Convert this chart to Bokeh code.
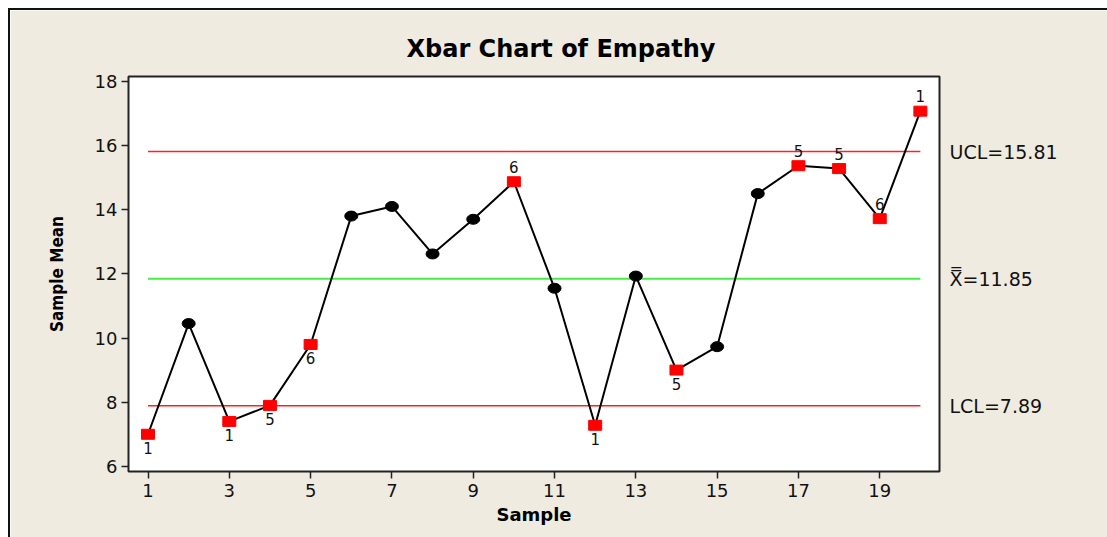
from bokeh.plotting import figure
from bokeh.models import Range1d, FixedTicker, LinearAxis, ColumnDataSource
from bokeh.core.properties import value
from bokeh.embed import file_html
from bokeh.resources import INLINE

# ---- data ----
samples = list(range(1, 21))
means = [7.0, 10.45, 7.4, 7.9, 9.8, 13.8, 14.1, 12.62, 13.7, 14.87,
         11.55, 7.28, 11.93, 9.0, 9.73, 14.5, 15.37, 15.28, 13.72, 17.07]
flags = ["1", "", "1", "5", "6", "", "", "", "", "6",
         "", "1", "", "5", "", "", "5", "5", "6", "1"]
flag_side = ["below", "", "below", "below", "below", "", "", "", "", "above",
             "", "below", "", "below", "", "", "above", "above", "above", "above"]
ucl = 15.81
center = 11.85
lcl = 7.89
limit_labels = ["UCL=15.81", "X\u033F=11.85", "LCL=7.89"]
limit_values = [ucl, center, lcl]
x_ticks = [1, 3, 5, 7, 9, 11, 13, 15, 17, 19]
y_ticks = [6, 8, 10, 12, 14, 16, 18]

BG = "#EFEBE1"
FONT = "DejaVu Sans"

p = figure(frame_width=811, frame_height=395,
           min_border_left=118, min_border_right=168,
           min_border_top=66, min_border_bottom=66,
           x_range=Range1d(0.52, 20.47), y_range=Range1d(5.84, 18.15),
           output_backend="svg", toolbar_location=None,
           background_fill_color="white", border_fill_color=BG,
           title="Xbar Chart of Empathy")
p.styles = {"border-left": "2px solid #111", "border-top": "2px solid #111",
            "margin-left": "8px", "margin-top": "8px"}

p.title.align = "left"
p.title.offset = 278
p.title.standoff = 27
p.title.text_font = FONT
p.title.text_font_size = "24px"
p.title.text_font_style = "bold"
p.title.text_color = "black"

p.outline_line_color = "#222222"
p.outline_line_width = 2
p.xgrid.visible = False
p.ygrid.visible = False

for ax in (p.xaxis[0], p.yaxis[0]):
    ax.axis_line_color = None
    ax.minor_tick_line_color = None
    ax.major_tick_in = 0
    ax.major_tick_out = 7
    ax.major_tick_line_color = "#222222"
    ax.major_tick_line_width = 1.5
    ax.major_label_text_font = FONT
    ax.major_label_text_font_size = "18px"
    ax.major_label_text_color = "#111111"
    ax.axis_label_text_color = "black"
    ax.axis_label_text_font_style = "bold"

p.xaxis.ticker = FixedTicker(ticks=x_ticks)
p.yaxis.ticker = FixedTicker(ticks=y_ticks)
p.xaxis.major_label_standoff = 5
p.yaxis.major_label_standoff = 4
p.xaxis.axis_label = "Sample"
p.xaxis.axis_label_text_font = FONT
p.xaxis.axis_label_text_font_size = "18px"
p.xaxis.axis_label_standoff = 4
p.yaxis.axis_label = "Sample Mean"
p.yaxis.axis_label_text_font = "'DejaVu Sans Condensed', 'Liberation Sans', sans-serif"
p.yaxis.axis_label_text_font_size = "17px"
p.yaxis.axis_label_standoff = 25

# right-side limit labels as an extra axis
rax = LinearAxis(ticker=FixedTicker(ticks=limit_values),
                 major_label_overrides={v: t for v, t in zip(limit_values, limit_labels)})
rax.axis_line_color = None
rax.major_tick_line_color = None
rax.minor_tick_line_color = None
rax.major_label_standoff = 4
rax.major_label_text_font = FONT
rax.major_label_text_font_size = "19px"
rax.major_label_text_color = "#111111"
p.add_layout(rax, "right")

# control limit lines
x_ends = [samples[0], samples[-1]]
p.line(x_ends, [ucl, ucl], line_color="#FF2020", line_width=1.5)
p.line(x_ends, [lcl, lcl], line_color="#FF2020", line_width=1.5)
p.line(x_ends, [center, center], line_color="#44EE44", line_width=2)

# series line
p.line(samples, means, line_color="black", line_width=2)

red_x = [s for s, f in zip(samples, flags) if f]
red_y = [m for m, f in zip(means, flags) if f]
blk_x = [s for s, f in zip(samples, flags) if not f]
blk_y = [m for m, f in zip(means, flags) if not f]

p.ellipse(blk_x, blk_y, width=13, height=10, width_units="screen",
          height_units="screen", fill_color="black", line_color="black")
p.rect(red_x, red_y, width=13, height=10, width_units="screen",
       height_units="screen", fill_color="#FF0000", line_color="#FF0000")

# flag labels
for side, off in (("below", 14), ("above", -15)):
    xs = [s for s, f, sd in zip(samples, flags, flag_side) if f and sd == side]
    ys = [m for m, f, sd in zip(means, flags, flag_side) if f and sd == side]
    ts = [f for f, sd in zip(flags, flag_side) if f and sd == side]
    src = ColumnDataSource(dict(x=xs, y=ys, t=ts))
    p.text(x="x", y="y", text="t", source=src, y_offset=off,
           text_align="center", text_baseline="middle",
           text_font=value(FONT), text_font_size="15px", text_color="#111111")

open("out.html", "w").write(file_html(p, INLINE))
